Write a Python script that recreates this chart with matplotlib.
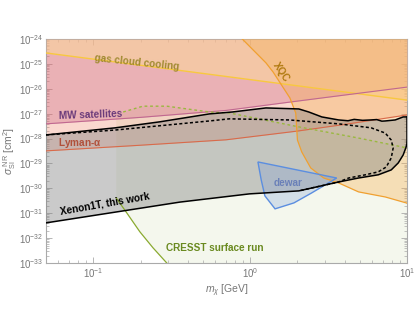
import matplotlib.pyplot as plt
import numpy as np
from matplotlib.ticker import LogLocator, NullFormatter, FixedLocator

plt.rcParams['font.family'] = ['Liberation Sans', 'DejaVu Sans']
plt.rcParams['mathtext.fontset'] = 'custom'
plt.rcParams['mathtext.rm'] = 'Liberation Sans'
plt.rcParams['mathtext.it'] = 'Liberation Sans:italic'
plt.rcParams['mathtext.bf'] = 'Liberation Sans:bold'

# ---- data (m in GeV, sigma in cm^2) ----
gas_m = [0.05, 10]
gas_s = [2.75e-25, 3.5e-27]

mw_m = [0.05, 0.2, 0.7, 2.0, 4.0, 10]
mw_s = [3.9e-28, 7.1e-28, 1.35e-27, 3.2e-27, 5.6e-27, 1.17e-26]

lya_m = [0.05, 0.2, 0.7, 2.0, 4.0, 10]
lya_s = [3.2e-29, 5.4e-29, 8.9e-29, 2.0e-28, 3.7e-28, 8.9e-28]

xqc_m = [0.89, 1.26, 1.40, 1.79, 1.95, 2.0, 2.13, 2.43, 2.94, 3.66, 4.9, 7.26, 9.86, 10]
xqc_s = [1e-24, 1.1e-25, 4.7e-26, 4.3e-27, 1.07e-27, 8.7e-29, 2.9e-29, 6.6e-30,
         2.6e-30, 1.65e-30, 7.2e-31, 4.5e-31, 2.6e-31, 2.5e-31]

cresst_curve_m = [0.14, 0.164, 0.198, 0.24, 0.294]
cresst_curve_s = [4.1e-31, 1.0e-31, 1.8e-32, 4.1e-33, 1e-33]
cresst_top_m = [0.14, 0.155, 0.207, 0.294, 0.55, 0.736, 2.04, 4.9, 10]
cresst_top_s = [1.0e-27, 1.17e-27, 2.0e-27, 2.0e-27, 1.17e-27, 1.07e-27, 2.95e-28, 1.05e-28, 4.2e-29]

xe_up_m = [0.05, 0.138, 0.265, 0.55, 0.77, 1.26, 2.04, 2.36, 2.86, 3.66, 4.2, 4.6,
           5.2, 5.9, 6.4, 6.9, 7.26, 8.4, 9.44, 10]
xe_up_s = [1.4e-28, 2.7e-28, 4.7e-28, 9.8e-28, 1.17e-27, 1.7e-27, 1.55e-27, 1.17e-27,
           7.4e-28, 5.6e-28, 5.2e-28, 5.9e-28, 5.4e-28, 5.6e-28, 5.8e-28, 5.0e-28,
           5.1e-28, 5.6e-28, 7.4e-28, 7.4e-28]
xe_lo_m = [0.05, 0.356, 0.99, 2.04, 3.66, 4.9, 6.55, 7.92, 8.78, 9.44, 9.86, 10]
xe_lo_s = [4.1e-32, 2.8e-31, 6.0e-31, 7.9e-31, 1.8e-30, 2.6e-30, 3.5e-30, 5.5e-30,
           1.05e-29, 2.2e-29, 4.6e-29, 7e-29]

dash_m = [0.05, 0.138, 0.55, 0.736, 1.77, 3.66, 5.9, 7.26, 7.92, 8.15, 7.92, 7.36,
          6.55, 5.42, 4.24, 3.66, 2.04]
dash_s = [1.4e-28, 2.2e-28, 5.1e-28, 6.2e-28, 5.6e-28, 3.9e-28, 2.7e-28, 1.66e-28,
          8.7e-29, 4.2e-29, 1.66e-29, 7.2e-30, 4.6e-30, 3.5e-30, 2.6e-30, 1.8e-30, 7.9e-31]

dewar_m = [1.12, 3.56, 2.47, 1.9, 1.44, 1.24, 1.175]
dewar_s = [1.15e-29, 2.6e-30, 6.6e-31, 2.6e-31, 1.5e-31, 5.0e-31, 2.2e-30]

y_decades = [1e-33, 1e-32, 1e-31, 1e-30, 1e-29, 1e-28, 1e-27, 1e-26, 1e-25, 1e-24]
x_decades = [0.1, 1, 10]

XMIN, XMAX, YMIN, YMAX = 0.05, 10, 1e-33, 1e-24

fig = plt.figure(figsize=(4.15, 3.12), dpi=100)
ax = fig.add_axes([0.111, 0.157, 0.870, 0.718])
ax.set_xscale('log')
ax.set_yscale('log')

# CRESST surface run
cx = cresst_curve_m + [XMAX] + cresst_top_m[::-1]
cy = cresst_curve_s + [YMIN] + cresst_top_s[::-1]
ax.fill(cx, cy, color='#9ab850', alpha=0.10, lw=0, zorder=1)

# Lyman-alpha, MW satellites, gas cloud cooling (excluded above the lines)
ax.fill_between(lya_m, lya_s, YMAX, color='#f08060', alpha=0.30, lw=0, zorder=2)
ax.fill_between(mw_m, mw_s, YMAX, color='#c8587a', alpha=0.30, lw=0, zorder=3)
ax.fill_between(gas_m, gas_s, YMAX, color='#fcd89a', alpha=0.55, lw=0, zorder=4)

# XQC
ax.fill(xqc_m + [XMAX], xqc_s + [YMAX], color='#f7b050', alpha=0.35, lw=0, zorder=5)

# Xenon1T region
ax.fill(xe_up_m + xe_lo_m[::-1], xe_up_s + xe_lo_s[::-1], color='#808080', alpha=0.41,
        lw=0, zorder=6)

# dewar
ax.fill(dewar_m, dewar_s, facecolor='#6f94d8', alpha=0.25, lw=0, zorder=7)
ax.fill(dewar_m, dewar_s, facecolor='none', edgecolor='#5b8ee0', lw=1.0, zorder=9)

# boundary lines
ax.plot(gas_m, gas_s, color='#f8c840', lw=1.0, zorder=8)
ax.plot(mw_m, mw_s, color='#c06890', lw=0.8, zorder=8)
ax.plot(lya_m, lya_s, color='#d96a4a', lw=0.8, zorder=8)
ax.plot(xqc_m, xqc_s, color='#f0a030', lw=0.9, zorder=8)
ax.plot(cresst_curve_m, cresst_curve_s, color='#8aaa30', lw=0.9, zorder=8)
ax.plot(cresst_top_m[1:], cresst_top_s[1:], color='#9ab840', lw=1.0, ls=(0, (2, 2)), zorder=8)
ax.plot(xe_up_m, xe_up_s, color='k', lw=1.1, zorder=10)
ax.plot(xe_lo_m, xe_lo_s, color='k', lw=1.1, zorder=10)
ax.plot([XMAX, XMAX], [xe_lo_s[-1], xe_up_s[-1]], color='k', lw=1.1, zorder=10)
ax.plot(dash_m, dash_s, color='k', lw=1.1, ls=(0, (2, 1.5)), zorder=10)

# labels
fs = 7.2
ax.text(0.19, 1.1e-25, 'gas cloud cooling', color='#a08a30', fontsize=fs, fontweight='bold',
        rotation=-6, ha='center', va='center', zorder=12)
ax.text(0.06, 9e-28, 'MW satellites', color='#6a3a7a', fontsize=fs, fontweight='bold',
        rotation=2, ha='left', va='center', zorder=12)
ax.text(0.06, 6.6e-29, r'Lyman-$\mathbf{\alpha}$', color='#b0503a', fontsize=fs, fontweight='bold',
        ha='left', va='center', zorder=12)
ax.text(1.57, 4.7e-26, 'XQC', color='#b07a10', fontsize=fs, fontweight='bold',
        rotation=-56, ha='center', va='center', zorder=12)
ax.text(1.74, 1.66e-30, 'dewar', color='#6a80b8', fontsize=fs, fontweight='bold',
        ha='center', va='center', zorder=12)
ax.text(0.119, 2.4e-31, 'Xenon1T, this work', color='k', fontsize=fs, fontweight='bold',
        rotation=10, ha='center', va='center', zorder=12)
ax.text(0.59, 4.1e-33, 'CRESST surface run', color='#6a8a20', fontsize=fs, fontweight='bold',
        ha='center', va='center', zorder=12)

ax.set_xlim(XMIN, XMAX)
ax.set_ylim(YMIN, YMAX)
ax.yaxis.set_major_locator(FixedLocator(y_decades))
ax.yaxis.set_minor_locator(LogLocator(base=10, subs=np.arange(2, 10), numticks=200))
ax.yaxis.set_minor_formatter(NullFormatter())
ax.xaxis.set_major_locator(FixedLocator(x_decades))
ax.xaxis.set_minor_locator(LogLocator(base=10, subs=np.arange(2, 10), numticks=200))
ax.xaxis.set_minor_formatter(NullFormatter())

grey = '#777777'
ax.tick_params(which='both', direction='in', top=True, right=True, colors='#aaaaaa',
               labelcolor=grey, labelsize=7, pad=2)
ax.tick_params(which='major', length=4, width=0.6)
ax.tick_params(which='minor', length=2, width=0.5)
for s in ax.spines.values():
    s.set_color('#aaaaaa')
    s.set_linewidth(0.8)

ax.set_xlabel(r'$m_\chi$ [GeV]', color=grey, fontsize=7.5, labelpad=2)
ax.set_ylabel(r'$\sigma_{\rm SI}^{\ \rm NR}$ [cm$^2$]', color=grey, fontsize=7.5, labelpad=1)

fig.savefig('out.png', dpi=100)
